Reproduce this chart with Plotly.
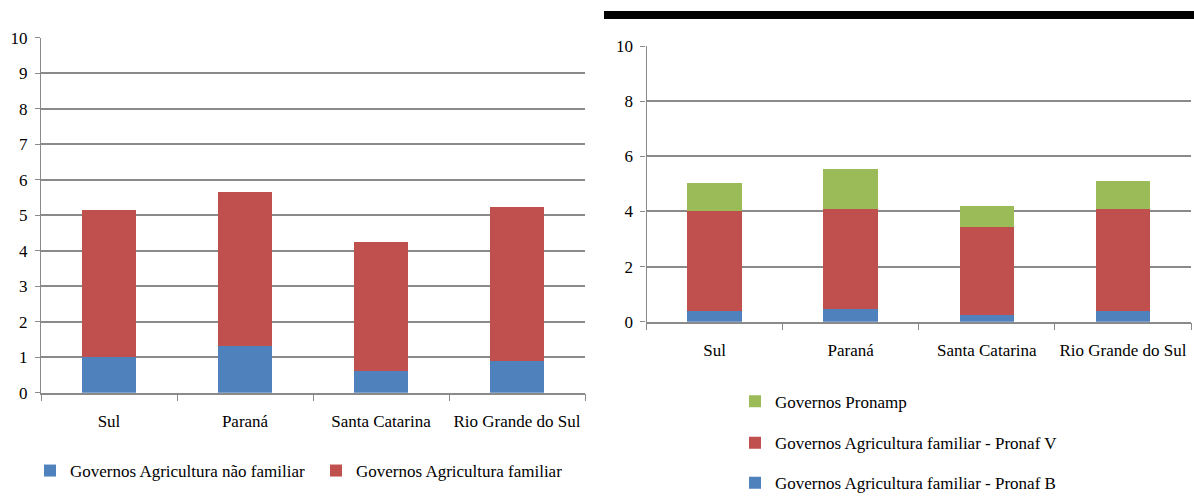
import plotly.graph_objects as go
import plotly.io as pio

pio.templates.default = "none"

# Regions (shared categories)
regioes = ["Sul", "Paraná", "Santa Catarina", "Rio Grande do Sul"]

# Left panel: agricultura não familiar vs familiar
nao_familiar = [1.00, 1.32, 0.62, 0.89]
familiar = [4.15, 4.34, 3.62, 4.33]

# Right panel: Pronaf B, Pronaf V, Pronamp
pronaf_b = [0.38, 0.45, 0.24, 0.38]
pronaf_v = [3.62, 3.65, 3.18, 3.72]
pronamp = [1.03, 1.45, 0.77, 1.01]

left_ticks = list(range(0, 11, 1))
right_ticks = list(range(0, 11, 2))

AZUL = "#4F81BD"
VERMELHO = "#C0504D"
VERDE = "#9BBB59"
GRID = "#8a8a8a"
FONT = "Liberation Serif, Times New Roman, serif"

W, H = 1194, 502

fig = go.Figure()

def bar(y, name, color, xa, ya, legend):
    return go.Bar(x=regioes, y=y, name=name, marker=dict(color=color, line=dict(width=0)),
                  xaxis=xa, yaxis=ya, legend=legend, showlegend=True)

fig.add_trace(bar(nao_familiar, "Governos Agricultura não familiar", AZUL, "x", "y", "legend"))
fig.add_trace(bar(familiar, "Governos Agricultura familiar", VERMELHO, "x", "y", "legend2"))

fig.add_trace(bar(pronaf_b, "Governos Agricultura familiar - Pronaf B", AZUL, "x2", "y2", "legend5"))
fig.add_trace(bar(pronaf_v, "Governos Agricultura familiar - Pronaf V", VERMELHO, "x2", "y2", "legend4"))
fig.add_trace(bar(pronamp, "Governos Pronamp", VERDE, "x2", "y2", "legend3"))

def px_x(v):
    return v / W

def px_y(v):
    return 1 - v / H

serif17 = dict(family=FONT, size=17, color="black")

xaxis_common = dict(type="category", showgrid=False, showline=True, linecolor=GRID, linewidth=1.5,
                    ticks="outside", tickson="boundaries", ticklen=7, tickcolor=GRID,
                    tickangle=0, automargin=False, tickfont=serif17,
                    ticklabelstandoff=12, fixedrange=True)
yaxis_common = dict(range=[0, 10], showgrid=True, gridcolor=GRID, gridwidth=1.6,
                    showline=True, linecolor=GRID, linewidth=1.2, ticks="outside", ticklen=5,
                    tickcolor=GRID, zeroline=False, automargin=False, tickfont=serif17,
                    ticklabelstandoff=4, fixedrange=True)

fig.update_layout(
    width=W, height=H,
    margin=dict(l=0, r=0, t=0, b=0),
    paper_bgcolor="white", plot_bgcolor="white",
    barmode="stack", bargap=0.6,
    font=serif17,
    xaxis=dict(domain=[px_x(41), px_x(585)], anchor="y", **xaxis_common),
    yaxis=dict(domain=[px_y(392.7), px_y(37.7)], anchor="x", tickvals=left_ticks, **yaxis_common),
    xaxis2=dict(domain=[px_x(646.5), px_x(1191)], anchor="y2", **xaxis_common),
    yaxis2=dict(domain=[px_y(321.7), px_y(46)], anchor="x2", tickvals=right_ticks, **yaxis_common),
)

def legend_at(x_px, y_px):
    return dict(x=px_x(x_px), y=px_y(y_px), xanchor="left", yanchor="middle",
                bgcolor="rgba(0,0,0,0)", itemwidth=30, font=serif17)

fig.update_layout(
    legend=legend_at(30, 471),
    legend2=legend_at(316, 471),
    legend3=legend_at(735, 401.7),
    legend4=legend_at(735, 443.3),
    legend5=legend_at(735, 483.3),
)

# Heavy black rule across the top of the right panel
fig.add_shape(type="rect", xref="paper", yref="paper",
              x0=px_x(604), x1=1, y0=px_y(19), y1=px_y(11),
              fillcolor="black", line=dict(width=0))

fig.write_html("out.html")
